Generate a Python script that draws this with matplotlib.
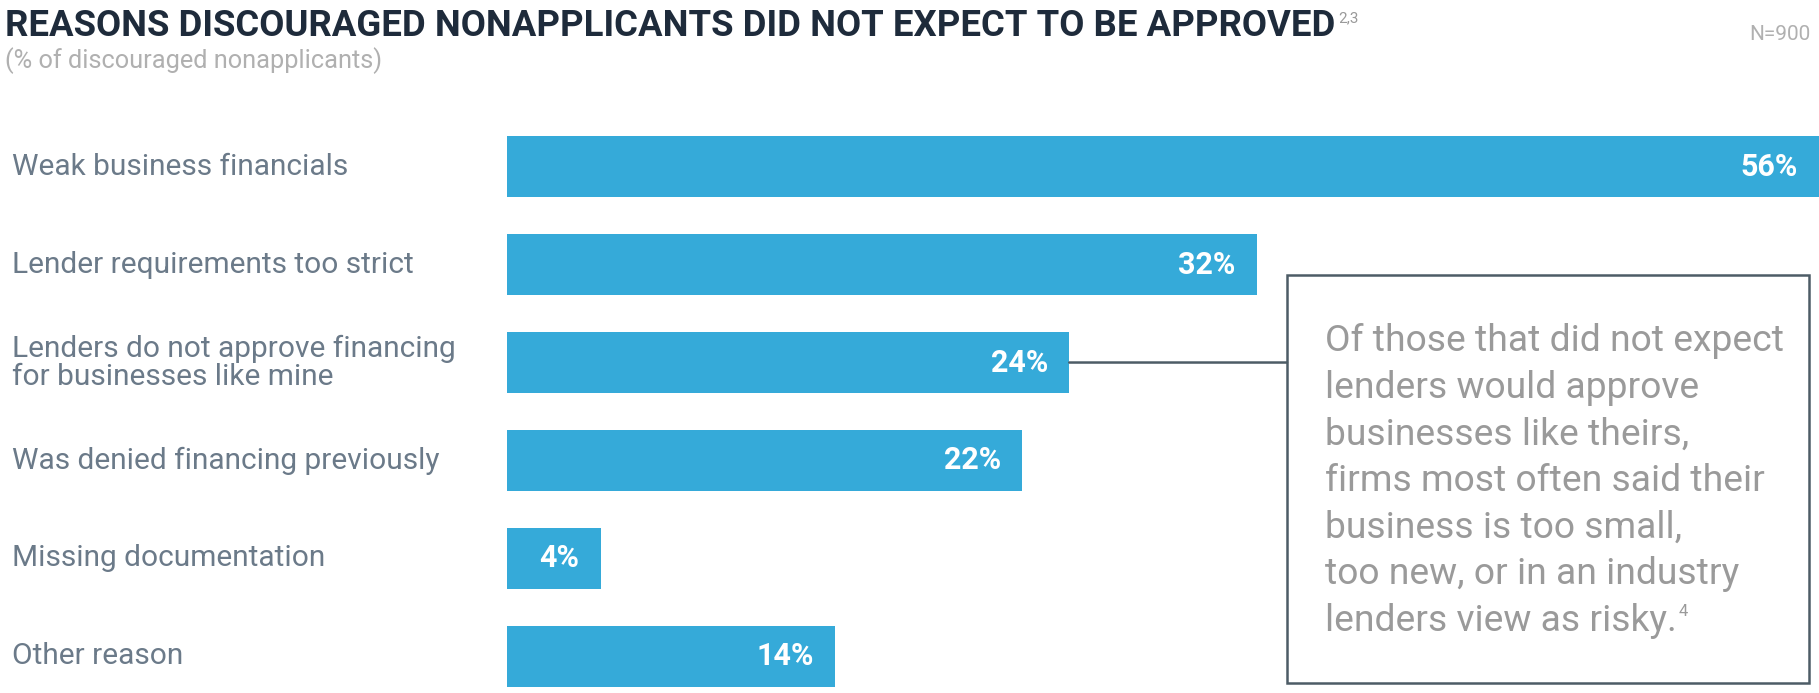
import numpy as np
import matplotlib
matplotlib.use("Agg")
import matplotlib.pyplot as plt

# ── data ──────────────────────────────────────────────────────────────────────
categories = [
    "Weak business financials",
    "Lender requirements too strict",
    "Lenders do not approve financing\nfor businesses like mine",
    "Was denied financing previously",
    "Missing documentation",
    "Other reason",
]
values = [56, 32, 24, 22, 4, 14]

title = "REASONS DISCOURAGED NONAPPLICANTS DID NOT EXPECT TO BE APPROVED"
title_note = "2,3"
subtitle = "(% of discouraged nonapplicants)"
n_label = "N=900"
callout_lines = [
    "Of those that did not expect",
    "lenders would approve",
    "businesses like theirs,",
    "firms most often said their",
    "business is too small,",
    "too new, or in an industry",
    "lenders view as risky.",
]
callout_note = "4"

# ── style ─────────────────────────────────────────────────────────────────────
W, H = 1819, 693
BAR = "#35aad9"
TITLE_C = "#1e2b3b"
LABEL_C = "#6b7a89"
NOTE_C = "#9a9a9a"
EDGE_C = "#4d5c66"
FONT = "Roboto"


def fx(x):
    return x / W


def fy(y):
    return 1 - y / H


fig = plt.figure(figsize=(W / 100, H / 100), dpi=100)
fig.patch.set_facecolor("white")

# bars: axes spans bar-1 top (136) to bar-6 bottom (687), x 507..1819
ax = fig.add_axes([fx(507), fy(687), 1 - fx(507), (687 - 136) / H])
ypos = np.arange(len(values))
ax.barh(ypos, values, height=0.625, color=BAR)
ax.set_xlim(0, 56)
ax.set_ylim(len(values) - 1 + 0.3125, -0.3125)
ax.axis("off")

for y, v in zip(ypos, values):
    ax.annotate(f"{v}%", (v, y), xytext=(-15.5, 0), textcoords="offset points",
                ha="right", va="center", color="white", fontsize=22,
                fontweight="bold", family=FONT)

# category labels, left aligned at the figure edge
lab_tf = matplotlib.transforms.blended_transform_factory(fig.transFigure,
                                                         ax.transData)
for y, lab in zip(ypos, categories):
    ax.text(fx(12), y, lab, transform=lab_tf, ha="left", va="center",
            color=LABEL_C, fontsize=21.5, family=FONT, linespacing=1.0)

# title / subtitle / N
t = fig.text(fx(5), fy(36), title, ha="left", va="baseline", color=TITLE_C,
             fontsize=26.3, fontweight="bold", family=FONT)
fig.text(fx(5), fy(68), subtitle, ha="left", va="baseline", color="#b0b0b0",
         fontsize=18.3, family=FONT)
fig.text(fx(1810), fy(40), n_label, ha="right", va="baseline", color="#b0b0b0",
         fontsize=15, family=FONT)

# callout box and connector line
fig.add_artist(plt.Rectangle((fx(1287), fy(683)), fx(1809 - 1287),
                             (683 - 275) / H, transform=fig.transFigure,
                             fill=False, edgecolor=EDGE_C, linewidth=1.8))
ax.annotate("", xy=(fx(1287), 2), xycoords=("figure fraction", "data"),
            xytext=(values[2], 2), textcoords="data",
            arrowprops=dict(arrowstyle="-", color=EDGE_C, lw=1.8,
                            shrinkA=0, shrinkB=0))

last = None
for i, line in enumerate(callout_lines):
    last = fig.text(fx(1325), fy(351 + i * 46.7), line, ha="left",
                    va="baseline", color=NOTE_C, fontsize=26.8, family=FONT)

# superscript notes placed after the measured text ends
renderer = fig.canvas.get_renderer()
bb = t.get_window_extent(renderer)
fig.text(fx(bb.x1 + 3), fy(22), title_note, ha="left", va="baseline",
         color=NOTE_C, fontsize=11, family=FONT)
bb = last.get_window_extent(renderer)
fig.text(fx(bb.x1 + 2), fy(351 + 6 * 46.7 - 15), callout_note, ha="left",
         va="baseline", color=NOTE_C, fontsize=12, family=FONT)

fig.savefig("out.png", dpi=100, facecolor="white")
